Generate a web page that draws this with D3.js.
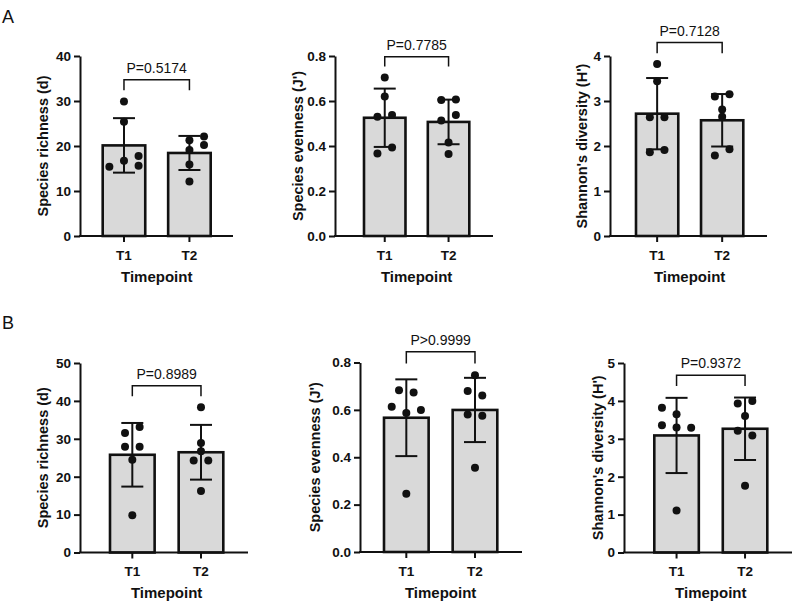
<!DOCTYPE html>
<html>
<head>
<meta charset="utf-8">
<script src="https://cdn.jsdelivr.net/npm/d3@7"></script>
<style>
  html, body { margin: 0; padding: 0; background: #fff; }
  svg { display: block; font-family: "Liberation Sans", Arial, Helvetica, sans-serif; }
</style>
</head>
<body>
<script>
// ---------------- DATA ----------------
const groups = ["T1", "T2"];

// Panel A (row 1)
const richnessA_T1 = [29.9, 25.4, 16.7, 15.4, 17.8, 15.6];
const richnessA_T2 = [21.3, 22.1, 20.2, 19.1, 15.9, 12.1];
const evennessA_T1 = [0.705, 0.620, 0.530, 0.538, 0.367, 0.393];
const evennessA_T2 = [0.604, 0.607, 0.513, 0.538, 0.416, 0.364];
const shannonA_T1  = [3.82, 3.44, 2.64, 2.64, 1.86, 1.91];
const shannonA_T2  = [3.10, 3.15, 2.81, 2.65, 1.79, 1.93];

// Panel B (row 2)
const richnessB_T1 = [31.5, 33.1, 27.9, 27.9, 24.5, 9.8];
const richnessB_T2 = [38.3, 28.9, 26.7, 24.3, 24.3, 16.2];
const evennessB_T1 = [0.683, 0.673, 0.613, 0.599, 0.587, 0.246];
const evennessB_T2 = [0.746, 0.680, 0.661, 0.580, 0.575, 0.356];
const shannonB_T1  = [3.82, 3.65, 3.36, 3.30, 3.29, 1.11];
const shannonB_T2  = [3.93, 4.00, 3.60, 3.21, 3.09, 1.76];

const pLabels = ["P=0.5174", "P=0.7785", "P=0.7128", "P=0.8989", "P>0.9999", "P=0.9372"];
const yTitles = ["Species richness (d)", "Species evenness (J')", "Shannon's diversity (H')",
                 "Species richness (d)", "Species evenness (J')", "Shannon's diversity (H')"];
const xTitle = "Timepoint";
const yMax = [40, 0.8, 4, 50, 0.8, 5];
const yTicks = [
  [0, 10, 20, 30, 40],
  [0, 0.2, 0.4, 0.6, 0.8],
  [0, 1, 2, 3, 4],
  [0, 10, 20, 30, 40, 50],
  [0, 0.2, 0.4, 0.6, 0.8],
  [0, 1, 2, 3, 4, 5]
];
const tickFormats = ["d", ".1f", "d", "d", ".1f", "d"];
const panelLetters = ["A", "B"];

const series = [
  [richnessA_T1, richnessA_T2],
  [evennessA_T1, evennessA_T2],
  [shannonA_T1, shannonA_T2],
  [richnessB_T1, richnessB_T2],
  [evennessB_T1, evennessB_T2],
  [shannonB_T1, shannonB_T2]
];

// ---------------- LAYOUT ----------------
// comparison bracket heights (data units): bar level and end of the drop lines
const bracketLevel = [34.7, 0.797, 4.30, 44.0, 0.845, 4.68];
const bracketDrop  = [32.4, 0.753, 4.06, 41.2, 0.796, 4.39];

const layout = [
  {left: 80,  right: 233, barStart: 102.7, barEnd: 210.7, top: 56,  bottom: 236,   titleX: 43},
  {left: 335, right: 493, barStart: 364,   barEnd: 469.3, top: 56,  bottom: 236,   titleX: 298},
  {left: 610, right: 767, barStart: 636,   barEnd: 743.3, top: 56,  bottom: 236,   titleX: 582},
  {left: 80,  right: 248, barStart: 110,   barEnd: 223.3, top: 363, bottom: 552.5, titleX: 43},
  {left: 360, right: 522, barStart: 384,   barEnd: 497.3, top: 362.5, bottom: 552, titleX: 315},
  {left: 624, right: 792, barStart: 654.3, barEnd: 767.3, top: 363, bottom: 552.5, titleX: 598}
];
// horizontal scatter slots of the dots (multiples of slotWidth px)
const slots = [
  [[0, 0, 0, -2, 2, 2], [0, 2, 2, 0, 0, 0]],
  [[0, 0, -1, 1, -1, 1], [-1, 1, -1, 1, 0, 0]],
  [[0, 0, -1, 1, -1, 1], [-1, 1, 0, 0, -1, 1]],
  [[-1, 1, -1, 1, 0, 0], [0, 0, 0, -1, 1, 0]],
  [[-1, 1, -2, 2, 0, 0], [0, -1, 1, -1, 1, 0]],
  [[-2, 0, -2, 0, 2, 0], [-1, 1, 0, -1, 1, 0]]
];
const slotWidth = 7.3;
const letterPos = [{x: 2, y: 23}, {x: 2, y: 329}];

const ink = "#111";
const barFill = "#d9d9d9";

// ---------------- DRAW ----------------
const svg = d3.select("body").append("svg")
  .attr("width", 794).attr("height", 605);
svg.append("rect").attr("width", 794).attr("height", 605).attr("fill", "#fff");

panelLetters.forEach((t, i) => {
  svg.append("text").attr("x", letterPos[i].x).attr("y", letterPos[i].y)
    .attr("font-size", 18).attr("fill", ink).text(t);
});

series.forEach((ser, i) => {
  const L = layout[i];
  const g = svg.append("g");
  const y = d3.scaleLinear().domain([0, yMax[i]]).range([L.bottom, L.top]);
  const x = d3.scaleBand().domain(groups).range([L.barStart, L.barEnd])
    .paddingInner(0.35).paddingOuter(0);
  const bw = x.bandwidth();
  const cx = k => x(groups[k]) + bw / 2;

  // bars
  ser.forEach((vals, k) => {
    const m = d3.mean(vals);
    g.append("rect")
      .attr("x", x(groups[k])).attr("y", y(m))
      .attr("width", bw).attr("height", y(0) - y(m))
      .attr("fill", barFill).attr("stroke", ink).attr("stroke-width", 2.6);
  });

  // error bars (mean ± SD)
  ser.forEach((vals, k) => {
    const m = d3.mean(vals), s = d3.deviation(vals);
    const c = cx(k), capW = 22;
    g.append("line").attr("x1", c).attr("x2", c).attr("y1", y(m - s)).attr("y2", y(m + s))
      .attr("stroke", ink).attr("stroke-width", 2);
    [m - s, m + s].forEach(v => {
      g.append("line").attr("x1", c - capW / 2).attr("x2", c + capW / 2)
        .attr("y1", y(v)).attr("y2", y(v))
        .attr("stroke", ink).attr("stroke-width", 2);
    });
  });

  // dots
  ser.forEach((vals, k) => {
    g.selectAll(null).data(vals).enter().append("circle")
      .attr("cx", (d, j) => cx(k) + slots[i][k][j] * slotWidth)
      .attr("cy", d => y(d))
      .attr("r", 4)
      .attr("fill", ink);
  });

  // y axis
  const yAxis = d3.axisLeft(y).tickValues(yTicks[i]).tickFormat(d3.format(tickFormats[i]))
    .tickSize(6).tickSizeOuter(0).tickPadding(3);
  const ya = g.append("g").attr("transform", `translate(${L.left},0)`).call(yAxis);
  ya.select(".domain").attr("stroke", ink).attr("stroke-width", 2);
  ya.selectAll(".tick line").attr("stroke", ink).attr("stroke-width", 2);
  ya.selectAll(".tick text").attr("font-size", 13.5).attr("font-weight", "bold")
    .attr("fill", ink).attr("font-family", null);

  // x axis
  const xAxis = d3.axisBottom(x).tickSize(6).tickSizeOuter(0).tickPadding(8);
  const xa = g.append("g").attr("transform", `translate(0,${y(0)})`).call(xAxis);
  xa.select(".domain").remove();
  xa.append("line").attr("x1", L.left - 1).attr("x2", L.right).attr("y1", 0).attr("y2", 0)
    .attr("stroke", ink).attr("stroke-width", 2);
  xa.selectAll(".tick line").attr("stroke", ink).attr("stroke-width", 2);
  xa.selectAll(".tick text").attr("font-size", 13.5).attr("font-weight", "bold")
    .attr("fill", ink).attr("font-family", null);
  ya.raise();

  // axis titles
  g.append("text")
    .attr("transform", `translate(${L.titleX},${(L.top + L.bottom) / 2}) rotate(-90)`)
    .attr("text-anchor", "middle").attr("dy", "0.35em")
    .attr("font-size", 14.5).attr("font-weight", "bold").attr("fill", ink)
    .text(yTitles[i]);
  g.append("text")
    .attr("x", (cx(0) + cx(1)) / 2).attr("y", y(0) + 45.5)
    .attr("text-anchor", "middle")
    .attr("font-size", 15).attr("font-weight", "bold").attr("fill", ink)
    .text(xTitle);

  // comparison bracket
  const by = y(bracketLevel[i]), bd = y(bracketDrop[i]);
  g.append("path")
    .attr("d", `M${cx(0)},${bd}V${by}H${cx(1)}V${bd}`)
    .attr("fill", "none").attr("stroke", ink).attr("stroke-width", 1.5);
  g.append("text")
    .attr("x", (cx(0) + cx(1)) / 2).attr("y", by - 7)
    .attr("text-anchor", "middle")
    .attr("font-size", 14).attr("fill", ink)
    .text(pLabels[i]);
});
</script>
</body>
</html>
